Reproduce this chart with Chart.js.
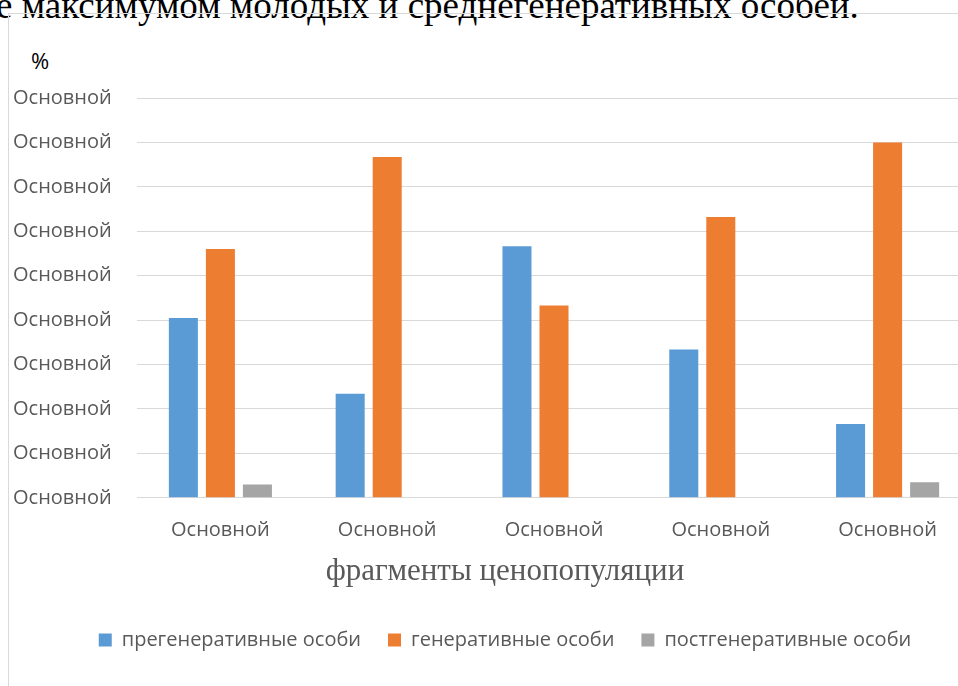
<!DOCTYPE html>
<html lang="ru">
<head>
<meta charset="utf-8">
<title>Фрагменты ценопопуляции</title>
<script src="https://cdn.jsdelivr.net/npm/chart.js@4"></script>
<style>
    html, body { margin: 0; padding: 0; background: #fff; overflow: hidden; width: 958px; height: 686px; }
    .page-text {
        position: absolute; left: -4px; top: -13px; white-space: nowrap;
        font-family: "Liberation Serif", "Times New Roman", serif; font-size: 37px; line-height: 37px; color: #000;
    }
    .frame {
        position: absolute; left: 8px; top: 13px; width: 1010px; height: 700px;
        border-left: 1px solid #d9d9d9; border-top: 1px solid #d9d9d9;
    }
    .unit {
        position: absolute; left: 31px; top: 47px;
        font-family: "Open Sans", sans-serif; font-size: 22px; line-height: 26px; color: #000;
    }
    .chart-box { position: absolute; left: 9px; top: 14px; width: 1000px; height: 672px; }
</style>
</head>
<body>
<div class="page-text">е максимумом молодых и среднегенеративных особей.</div>
<div class="frame"></div>
<div class="unit">%</div>
<div class="chart-box"><canvas id="chart"></canvas></div>
<script>
// Categories and tick labels (all placeholders in the source picture)
const categories = ['Основной', 'Основной', 'Основной', 'Основной', 'Основной'];
const yTickLabel = 'Основной';
const seriesNames = ['прегенеративные особи', 'генеративные особи', 'постгенеративные особи'];

// Values, %
const pregenerative = [40.5, 23.4, 56.6, 33.4, 16.6];
const generative = [56.0, 76.7, 43.3, 63.2, 80.0];
const postgenerative = [3.0, 0, 0, 0, 3.5];

const seriesColors = ['#5b9bd5', '#ed7d31', '#a5a5a5'];
const textGrey = '#595959';

Chart.defaults.font.family = '"Open Sans", sans-serif';
Chart.defaults.color = textGrey;

const ctx = document.getElementById('chart').getContext('2d');

new Chart(ctx, {
    type: 'bar',
    data: {
        labels: categories,
        datasets: [pregenerative, generative, postgenerative].map(function(values, i) {
            return {
                label: seriesNames[i],
                data: values,
                backgroundColor: seriesColors[i],
                borderWidth: 0,
                categoryPercentage: 0.666,
                barPercentage: 0.784
            };
        })
    },
    options: {
        responsive: true,
        maintainAspectRatio: false,
        animation: false,
        layout: {
            padding: { left: 30, right: 38, top: 84, bottom: 26 }
        },
        scales: {
            x: {
                grid: { display: false, drawTicks: false },
                border: { display: false },
                ticks: { font: { size: 20 }, color: textGrey, padding: 20, maxRotation: 0 }
            },
            y: {
                min: 0,
                max: 90,
                grid: { color: '#d9d9d9', lineWidth: 1, drawTicks: false },
                border: { display: false },
                ticks: {
                    stepSize: 10,
                    font: { size: 20 },
                    color: textGrey,
                    // labels sit left of the plot, hanging past the frame edge
                    mirror: true,
                    padding: -124,
                    callback: function() { return yTickLabel; }
                },
                afterFit: function(scale) { scale.width = 98; }
            }
        },
        plugins: {
            subtitle: {
                display: true,
                position: 'bottom',
                weight: 500,
                text: 'фрагменты ценопопуляции',
                color: textGrey,
                font: { family: '"Liberation Serif", "Times New Roman", serif', size: 31, weight: 'normal' },
                padding: { top: -9, bottom: 13 }
            },
            legend: {
                position: 'bottom',
                labels: {
                    boxWidth: 13,
                    boxHeight: 13,
                    padding: 27,
                    color: textGrey,
                    font: { size: 20 }
                }
            },
            tooltip: { enabled: false }
        }
    }
});
</script>
</body>
</html>
